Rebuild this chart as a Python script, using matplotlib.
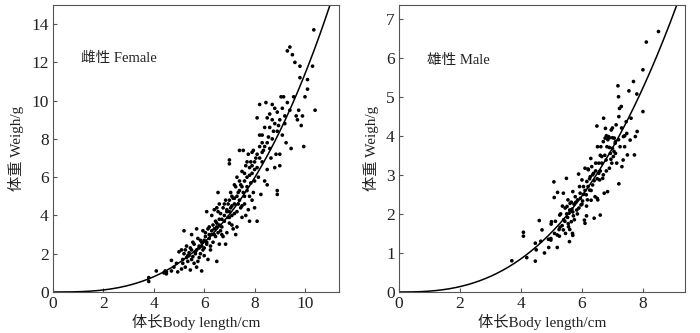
import numpy as np
import matplotlib
matplotlib.use("Agg")
import matplotlib.pyplot as plt

plt.rcParams['font.family'] = ['Liberation Serif', 'Noto Sans CJK SC']
plt.rcParams['axes.unicode_minus'] = False

# Female body length (cm) and weight (g)
female_len = [
    3.8, 3.8, 4.1, 4.4, 4.45, 4.5, 4.5, 4.7, 4.7, 4.8, 4.9, 4.95, 5.0, 5.1, 5.1, 5.15, 5.15, 5.2, 5.2, 5.25,
    5.3, 5.3, 5.35, 5.4, 5.4, 5.45, 5.5, 5.5, 5.5, 5.55, 5.6, 5.6, 5.65, 5.7, 5.7, 5.75, 5.8, 5.8, 5.85, 5.9,
    5.9, 5.95, 6.0, 6.0, 6.05, 6.1, 6.1, 6.15, 6.2, 6.2, 6.25, 6.3, 6.3, 6.35, 6.4, 6.45, 6.5, 6.5, 6.5, 6.55,
    6.55, 6.6, 6.6, 6.65, 6.7, 6.75, 6.8, 6.8, 6.85, 6.9, 6.9, 6.95, 7.0, 7.0, 7.0, 7.0, 7.05, 7.1, 7.1, 7.15,
    7.2, 7.2, 7.25, 7.3, 7.3, 7.35, 7.4, 7.4, 7.45, 7.5, 7.5, 7.55, 7.6, 7.6, 7.65, 7.7, 7.7, 7.75, 7.8, 7.8,
    7.85, 7.9, 7.9, 7.95, 8.0, 8.0, 8.05, 8.1, 8.1, 8.15, 8.2, 8.2, 8.25, 8.3, 8.3, 8.35, 8.4, 8.45, 8.5, 8.5,
    8.5, 8.55, 8.6, 8.65, 8.7, 8.75, 8.8, 8.85, 8.9, 8.9, 8.95, 9.0, 9.0, 9.05, 9.1, 9.15, 9.2, 9.25, 9.3, 9.4,
    9.4, 9.45, 9.5, 9.55, 9.6, 9.65, 9.7, 9.75, 9.8, 9.85, 9.8, 9.9, 9.95, 10.0, 10.1, 10.1, 10.3, 10.35, 10.4,
    6.0, 6.1, 6.3, 6.4, 6.5, 6.6, 6.7, 6.8, 6.9, 7.0, 7.1, 7.2, 7.3, 7.4, 7.5, 7.6, 7.7, 7.8, 7.9, 8.0,
    8.1, 8.2, 8.3, 8.4, 8.6, 8.7, 8.8, 8.9, 5.7, 5.8, 5.9, 6.2, 6.35, 6.45, 6.55, 6.65, 6.75, 6.85, 6.95, 7.05,
    7.15, 7.25, 7.35, 7.45, 7.55, 7.65, 7.75, 7.85, 7.95, 5.25, 5.35, 5.45, 5.55, 5.65, 5.75, 5.85, 5.95, 6.05, 6.15, 6.25,
    6.4, 6.6, 6.7, 7.0, 7.1, 7.2, 7.3, 7.4, 7.5, 7.6, 7.7, 7.8, 7.9, 8.0, 8.1, 8.2, 8.3, 8.4, 8.5, 8.6,
    8.7, 8.8, 8.9, 9.0, 9.1, 9.2, 9.3,
]
female_wt = [
    0.55, 0.75, 1.1, 1.0, 1.1, 0.95, 1.05, 1.1, 1.65, 1.3, 1.5, 1.05, 2.1, 1.2, 2.2, 1.5, 1.7, 3.2, 2.0, 1.3,
    1.8, 2.4, 1.6, 1.9, 2.05, 1.15, 1.7, 2.2, 3.0, 1.85, 2.5, 1.5, 2.1, 1.3, 3.3, 2.8, 1.8, 2.4, 2.0, 1.1,
    2.6, 3.2, 2.3, 1.9, 2.9, 4.2, 2.5, 1.7, 2.8, 3.4, 2.2, 3.0, 4.0, 2.6, 3.3, 2.9, 1.6, 3.6, 4.4, 5.2,
    3.1, 3.8, 2.5, 4.1, 3.4, 2.9, 4.6, 3.7, 2.5, 4.2, 3.1, 3.9, 6.9, 6.7, 4.8, 3.6, 4.4, 5.0, 4.0, 3.3,
    5.6, 4.6, 3.0, 4.2, 6.0, 5.2, 4.8, 7.4, 5.6, 6.3, 4.5, 7.4, 5.0, 5.8, 4.0, 6.8, 5.3, 4.3, 6.1, 3.7,
    5.7, 6.6, 7.3, 5.2, 6.4, 4.4, 7.0, 3.7, 9.1, 6.0, 7.6, 9.8, 5.1, 8.2, 6.8, 7.4, 8.6, 9.9, 6.4, 7.8,
    5.6, 8.1, 9.3, 7.0, 9.8, 8.4, 6.5, 7.2, 5.3, 5.1, 8.7, 9.0, 6.6, 10.2, 8.2, 10.2, 9.2, 7.8, 12.6, 12.8,
    9.5, 7.5, 12.4, 10.2, 12.0, 9.2, 9.0, 9.5, 11.8, 8.7, 11.2, 9.2, 7.6, 10.2, 10.6, 11.1, 11.8, 13.7, 9.5,
    2.7, 2.6, 3.2, 3.0, 3.4, 3.5, 3.8, 4.0, 4.3, 4.2, 4.5, 4.9, 5.0, 5.3, 5.5, 6.2, 6.0, 6.5, 6.2, 6.8,
    7.2, 7.0, 7.8, 7.6, 8.6, 9.0, 8.8, 9.4, 2.2, 2.3, 2.4, 3.0, 3.5, 3.7, 4.2, 3.2, 4.4, 4.8, 4.6, 5.2,
    4.9, 5.5, 4.6, 4.4, 5.2, 6.6, 7.2, 6.8, 7.4, 2.2, 1.9, 2.3, 2.6, 2.0, 1.6, 2.7, 2.2, 3.1, 3.3, 2.4,
    4.3, 4.6, 3.0, 3.9, 3.5, 4.1, 3.4, 5.8, 3.9, 4.6, 5.5, 5.0, 4.8, 5.8, 6.5, 8.2, 7.3, 5.8, 9.1, 7.5,
    8.0, 9.6, 8.4, 7.2, 9.6, 8.8, 9.9,
]

# Male body length (cm) and weight (g)
male_len = [
    3.7, 4.08, 4.08, 4.19, 4.47, 4.47, 4.5, 4.6, 4.65, 4.69, 4.77, 4.91, 4.98, 4.98, 4.99, 5.08, 5.09, 5.13, 5.19, 5.19,
    5.2, 5.26, 5.27, 5.28, 5.36, 5.39, 5.39, 5.44, 5.46, 5.49, 5.51, 5.53, 5.54, 5.56, 5.58, 5.59, 5.61, 5.65, 5.67, 5.69,
    5.7, 5.72, 5.74, 5.78, 5.83, 5.86, 5.89, 5.92, 5.94, 5.97, 6.0, 6.02, 6.05, 6.08, 6.1, 6.1, 6.14, 6.16, 6.18, 6.21,
    6.25, 6.27, 6.29, 6.32, 6.35, 6.38, 6.4, 6.43, 6.45, 6.49, 6.51, 6.52, 6.55, 6.58, 6.6, 6.62, 6.65, 6.68, 6.71, 6.73,
    6.76, 6.77, 6.79, 6.82, 6.84, 6.87, 6.9, 6.93, 6.96, 6.98, 7.0, 7.03, 7.06, 7.09, 7.12, 7.14, 7.18, 7.2, 7.21, 7.21,
    7.23, 7.25, 7.29, 7.31, 7.35, 7.36, 7.4, 7.45, 7.47, 7.49, 7.54, 7.58, 7.61, 7.69, 7.72, 7.75, 7.8, 7.81, 8.0, 8.0,
    8.11, 8.51,
    5.6, 5.65, 5.7, 5.75, 5.8, 5.85, 5.9, 5.95, 6.0, 6.05, 6.1, 6.15, 6.2, 6.25, 6.3, 6.35, 6.4, 6.45, 6.5, 6.55,
    6.6, 6.65, 6.7, 6.75, 6.8, 6.85, 6.9, 6.95, 7.0, 7.05, 7.1, 5.5, 5.55, 5.45, 5.4, 5.35, 5.3, 5.6, 6.2, 6.3,
    6.15, 6.5, 6.6, 6.7, 6.8, 6.9, 7.0, 7.1, 7.2, 7.3, 7.4, 5.1, 5.0, 4.9, 5.25, 5.7,
]
male_wt = [
    0.8, 1.53, 1.43, 0.88, 1.25, 0.79, 1.08, 1.83, 1.3, 1.59, 1.0, 1.14, 1.37, 1.33, 1.74, 2.82, 2.42, 1.81, 1.46, 1.14,
    2.55, 1.43, 1.97, 1.66, 2.2, 2.53, 1.59, 1.81, 1.5, 2.91, 2.19, 1.91, 2.36, 1.67, 2.02, 1.29, 2.27, 1.8, 2.12, 1.5,
    2.57, 1.95, 2.25, 2.44, 2.1, 2.36, 3.02, 2.7, 2.53, 2.23, 2.87, 2.33, 2.7, 1.84, 1.76, 3.17, 2.49, 2.83, 2.36, 3.13,
    2.61, 2.95, 3.42, 3.21, 2.74, 3.04, 1.89, 2.44, 3.3, 4.25, 3.72, 2.36, 3.04, 2.87, 1.97, 3.72, 3.47, 2.91, 4.45, 2.53,
    3.94, 4.19, 3.38, 3.72, 2.57, 3.98, 3.17, 3.55, 4.15, 3.3, 3.68, 3.47, 3.94, 3.81, 4.28, 3.3, 5.28, 5.0, 4.49, 2.77,
    4.7, 3.72, 4.75, 3.21, 3.38, 3.98, 3.72, 4.36, 4.06, 3.51, 5.15, 3.89, 4.45, 5.39, 3.51, 3.98, 5.07, 4.11, 5.69, 4.62,
    6.4, 6.67,
    2.1, 2.3, 2.05, 1.85, 2.3, 2.0, 2.15, 2.4, 2.25, 2.5, 2.6, 2.2, 2.7, 2.9, 2.6, 3.0, 2.85, 3.1, 2.4, 3.3,
    3.1, 3.3, 3.0, 3.5, 3.1, 3.9, 3.7, 3.4, 3.95, 3.6, 3.85, 2.0, 1.75, 2.15, 1.85, 1.7, 2.0, 1.6, 3.15, 2.35,
    1.95, 2.9, 3.5, 3.85, 4.0, 3.95, 4.2, 3.55, 3.9, 4.2, 4.0, 1.5, 1.8, 1.35, 1.6, 1.45,
]

# Fitted power relationships W = a * L^b
female_a, female_b = 0.01435, 2.9
male_a, male_b = 0.0225, 2.62

text_color = '#222222'
fig = plt.figure(figsize=(7.0, 3.33), dpi=100)
ax1 = fig.add_axes([0.0757, 0.1231, 0.4086, 0.862])
ax2 = fig.add_axes([0.570, 0.1231, 0.4086, 0.862])

panels = [
    (ax1, female_len, female_wt, female_a, female_b, (0, 11.35), (0, 15), range(0, 11, 2), range(0, 15, 2),
     '雌性 Female', (1.1, 12.2)),
    (ax2, male_len, male_wt, male_a, male_b, (0, 9.38), (0, 7.35), range(0, 9, 2), range(0, 8, 1),
     '雄性 Male', (0.91, 5.94)),
]

for ax, xs, ys, a, b, xlim, ylim, xt, yt, label, pos in panels:
    ax.scatter(xs, ys, s=7, c='black', edgecolors='none', zorder=3)
    lx = np.linspace(0, xlim[1], 300)
    ax.plot(lx, a * lx ** b, color='black', lw=1.1, zorder=2)
    ax.set_xlim(*xlim)
    ax.set_ylim(*ylim)
    ax.set_xticks(list(xt))
    ax.set_yticks(list(yt))
    ax.tick_params(direction='in', length=3, width=0.8, labelsize=12.5, colors='#555555',
                   labelcolor=text_color, pad=3)
    for sp in ax.spines.values():
        sp.set_color('#555555')
        sp.set_linewidth(0.8)
    ax.text(pos[0], pos[1], label, fontsize=10.5, color=text_color, va='center', ha='left')
    ax.set_xlabel('体长Body length/cm', fontsize=11, color=text_color, labelpad=1)
    ax.set_ylabel('体重 Weigh/g', fontsize=11, color=text_color, labelpad=5)

fig.savefig('out.png', dpi=100)
